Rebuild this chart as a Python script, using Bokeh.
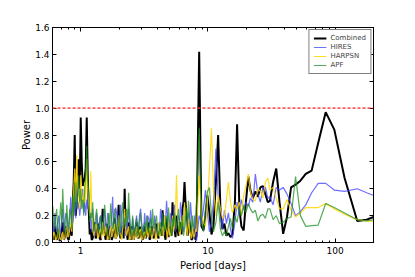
from bokeh.plotting import figure
from bokeh.models import (Range1d, FixedTicker, LogAxis, LinearAxis, Span,
                          PrintfTickFormatter, NumeralTickFormatter)
from bokeh.embed import file_html
from bokeh.resources import INLINE

# Period grid [days]: dense short-period part and sparse long-period tail
period_dense = [
    0.603, 0.614, 0.625, 0.636, 0.648, 0.660, 0.672, 0.684, 0.697, 0.710,
    0.722, 0.736, 0.749, 0.763, 0.777, 0.791, 0.805, 0.820, 0.835, 0.850,
    0.866, 0.881, 0.897, 0.914, 0.930, 0.947, 0.964, 0.982, 1.000, 1.018,
    1.037, 1.056, 1.075, 1.094, 1.115, 1.135, 1.155, 1.177, 1.198, 1.220,
    1.242, 1.265, 1.288, 1.311, 1.335, 1.359, 1.384, 1.409, 1.435, 1.461,
    1.488, 1.515, 1.543, 1.571, 1.599, 1.628, 1.658, 1.688, 1.719, 1.751,
    1.782, 1.815, 1.848, 1.882, 1.916, 1.951, 1.986, 2.022, 2.059, 2.097,
    2.135, 2.174, 2.214, 2.254, 2.295, 2.337, 2.379, 2.423, 2.467, 2.512,
    2.557, 2.604, 2.651, 2.700, 2.749, 2.799, 2.850, 2.902, 2.955, 3.009,
    3.063, 3.120, 3.176, 3.234, 3.293, 3.353, 3.414, 3.477, 3.540, 3.604,
    3.670, 3.737, 3.805, 3.875, 3.945, 4.017, 4.090, 4.165, 4.241, 4.318,
    4.396, 4.477, 4.558, 4.642, 4.726, 4.812, 4.900, 4.989, 5.080, 5.173,
    5.267, 5.363, 5.461, 5.560, 5.661, 5.765, 5.870, 5.977, 6.085, 6.197,
    6.310, 6.425, 6.542, 6.661, 6.782, 6.906, 7.032, 7.160, 7.290, 7.423,
    7.558, 7.696, 7.837, 7.979, 8.125,
]
period_tail = [
    8.531, 8.892, 9.219, 9.559, 9.910, 10.27, 10.66, 11.04, 11.55, 12.02,
    12.53, 12.99, 13.47, 13.97, 14.48, 15.02, 15.57, 16.29, 16.94, 17.67,
    18.32, 19.09, 19.86, 20.78, 21.54, 22.54, 23.58, 24.67, 25.81, 27.01,
    28.25, 29.55,
    30.7, 32.5, 34.4, 36.5, 39.0, 41.8, 45.0, 48.8, 53.3, 58.7,
    65.3, 73.5, 84.2, 98.4, 118.5, 149.0, 177.0, 200.0,
]

combined_dense = [
    0.05, 0.02, 0.12, 0.04, 0.02, 0.10, 0.08, 0.01, 0.03, 0.09,
    0.15, 0.02, 0.04, 0.12, 0.10, 0.03, 0.02, 0.08, 0.12, 0.05,
    0.30, 0.45, 0.80, 0.20, 0.30, 0.45, 0.62, 0.40, 0.93, 0.60,
    0.42, 0.45, 0.48, 0.55, 0.93, 0.50, 0.25, 0.06, 0.10, 0.02,
    0.03, 0.10, 0.15, 0.03, 0.05, 0.14, 0.12, 0.03, 0.02, 0.10,
    0.25, 0.08, 0.06, 0.02, 0.14, 0.06, 0.02, 0.12, 0.10, 0.02,
    0.04, 0.09, 0.18, 0.03, 0.05, 0.12, 0.28, 0.06, 0.03, 0.08,
    0.12, 0.03, 0.40, 0.10, 0.08, 0.02, 0.15, 0.06, 0.02, 0.12,
    0.10, 0.02, 0.05, 0.10, 0.15, 0.04, 0.03, 0.12, 0.09, 0.04,
    0.02, 0.08, 0.12, 0.03, 0.05, 0.10, 0.15, 0.02, 0.04, 0.12,
    0.10, 0.03, 0.06, 0.10, 0.14, 0.05, 0.03, 0.08, 0.10, 0.05,
    0.24, 0.12, 0.06, 0.02, 0.18, 0.08, 0.04, 0.10, 0.12, 0.05,
    0.30, 0.15, 0.10, 0.04, 0.20, 0.10, 0.05, 0.12, 0.15, 0.06,
    0.25, 0.30, 0.45, 0.30, 0.20, 0.05, 0.08, 0.15, 0.12, 0.02,
    0.03, 0.08, 0.10, 0.02, 0.05,
]
combined_tail = [
    1.42, 0.12, 0.09, 0.20, 0.35, 0.22, 0.06, 0.12, 0.45, 0.80,
    0.25, 0.10, 0.14, 0.05, 0.07, 0.04, 0.06, 0.30, 0.88, 0.25,
    0.12, 0.09, 0.30, 0.49, 0.39, 0.33, 0.38, 0.34, 0.41, 0.42,
    0.36, 0.30,
    0.31, 0.45, 0.55, 0.30, 0.065, 0.19, 0.41, 0.43, 0.46, 0.51,
    0.535, 0.74, 0.97, 0.84, 0.48, 0.16, 0.17, 0.19,
]

hires_dense = [
    0.15, 0.06, 0.22, 0.12, 0.08, 0.16, 0.20, 0.05, 0.10, 0.18,
    0.25, 0.08, 0.12, 0.22, 0.20, 0.10, 0.08, 0.20, 0.34, 0.12,
    0.15, 0.22, 0.30, 0.18, 0.42, 0.25, 0.30, 0.20, 0.28, 0.35,
    0.40, 0.22, 0.30, 0.20, 0.32, 0.25, 0.38, 0.22, 0.18, 0.08,
    0.25, 0.15, 0.10, 0.05, 0.22, 0.14, 0.08, 0.18, 0.20, 0.06,
    0.12, 0.20, 0.25, 0.08, 0.10, 0.22, 0.18, 0.05, 0.08, 0.20,
    0.34, 0.10, 0.15, 0.26, 0.22, 0.08, 0.10, 0.18, 0.28, 0.06,
    0.12, 0.22, 0.20, 0.05, 0.08, 0.16, 0.25, 0.14, 0.10, 0.04,
    0.18, 0.10, 0.06, 0.14, 0.20, 0.08, 0.12, 0.20, 0.25, 0.15,
    0.10, 0.05, 0.22, 0.12, 0.08, 0.20, 0.18, 0.10, 0.24, 0.14,
    0.10, 0.05, 0.20, 0.12, 0.06, 0.12, 0.15, 0.08, 0.25, 0.18,
    0.12, 0.05, 0.20, 0.15, 0.31, 0.20, 0.10, 0.06, 0.22, 0.10,
    0.15, 0.22, 0.28, 0.08, 0.12, 0.18, 0.20, 0.10, 0.30, 0.22,
    0.15, 0.08, 0.25, 0.18, 0.10, 0.16, 0.22, 0.12, 0.30, 0.20,
    0.12, 0.05, 0.20, 0.08, 0.01,
]
hires_tail = [
    0.20, 0.14, 0.25, 0.39, 0.22, 0.08, 0.15, 0.30, 0.70, 0.35,
    0.20, 0.10, 0.24, 0.14, 0.22, 0.10, 0.03, 0.15, 0.30, 0.20,
    0.32, 0.24, 0.30, 0.27, 0.33, 0.30, 0.51, 0.36, 0.30, 0.41,
    0.41, 0.33,
    0.34, 0.28, 0.41, 0.39, 0.41, 0.36, 0.29, 0.20, 0.23, 0.28,
    0.37, 0.44, 0.44, 0.39, 0.38, 0.40, 0.37, 0.35,
]

harpsn_dense = [
    0.02, 0.08, 0.06, 0.02, 0.03, 0.07, 0.10, 0.03, 0.02, 0.06,
    0.08, 0.02, 0.04, 0.10, 0.12, 0.04, 0.05, 0.10, 0.15, 0.08,
    0.25, 0.40, 0.55, 0.30, 0.65, 0.40, 0.35, 0.25, 0.50, 0.35,
    0.28, 0.35, 0.45, 0.30, 0.62, 0.40, 0.30, 0.20, 0.53, 0.25,
    0.15, 0.05, 0.08, 0.14, 0.12, 0.03, 0.04, 0.09, 0.10, 0.03,
    0.15, 0.06, 0.05, 0.12, 0.10, 0.02, 0.03, 0.08, 0.12, 0.04,
    0.06, 0.10, 0.14, 0.03, 0.04, 0.12, 0.20, 0.08, 0.06, 0.02,
    0.10, 0.14, 0.25, 0.10, 0.05, 0.09, 0.12, 0.02, 0.03, 0.10,
    0.09, 0.02, 0.04, 0.08, 0.12, 0.03, 0.05, 0.09, 0.10, 0.02,
    0.03, 0.07, 0.08, 0.03, 0.12, 0.06, 0.04, 0.11, 0.10, 0.03,
    0.05, 0.10, 0.13, 0.02, 0.04, 0.10, 0.15, 0.04, 0.06, 0.10,
    0.12, 0.05, 0.20, 0.12, 0.08, 0.03, 0.15, 0.06, 0.05, 0.12,
    0.20, 0.08, 0.12, 0.25, 0.50, 0.20, 0.15, 0.05, 0.08, 0.14,
    0.20, 0.12, 0.30, 0.18, 0.10, 0.05, 0.18, 0.10, 0.06, 0.03,
    0.12, 0.04, 0.05, 0.10, 0.08,
]
harpsn_tail = [
    0.50, 0.20, 0.15, 0.12, 0.30, 0.55, 0.85, 0.40, 0.20, 0.35,
    0.25, 0.18, 0.20, 0.32, 0.45, 0.30, 0.22, 0.28, 0.25, 0.30,
    0.20, 0.35, 0.42, 0.51, 0.38, 0.32, 0.31, 0.40, 0.38, 0.33,
    0.45, 0.48,
    0.39, 0.41, 0.33, 0.25, 0.25, 0.32, 0.24, 0.19, 0.22, 0.26,
    0.26, 0.26, 0.29, 0.25, 0.21, 0.17, 0.16, 0.155,
]

apf_dense = [
    0.27, 0.15, 0.10, 0.20, 0.25, 0.05, 0.08, 0.18, 0.30, 0.12,
    0.40, 0.20, 0.12, 0.06, 0.28, 0.15, 0.10, 0.25, 0.22, 0.10,
    0.35, 0.20, 0.45, 0.25, 0.28, 0.35, 0.50, 0.30, 0.40, 0.25,
    0.32, 0.20, 0.40, 0.50, 0.72, 0.45, 0.38, 0.15, 0.22, 0.18,
    0.30, 0.08, 0.12, 0.20, 0.25, 0.10, 0.08, 0.15, 0.20, 0.06,
    0.10, 0.18, 0.28, 0.15, 0.12, 0.05, 0.22, 0.12, 0.29, 0.15,
    0.10, 0.18, 0.25, 0.12, 0.08, 0.15, 0.20, 0.05, 0.12, 0.22,
    0.30, 0.10, 0.18, 0.12, 0.25, 0.15, 0.37, 0.20, 0.12, 0.05,
    0.20, 0.12, 0.06, 0.14, 0.18, 0.05, 0.10, 0.16, 0.22, 0.10,
    0.05, 0.12, 0.15, 0.05, 0.20, 0.12, 0.08, 0.14, 0.18, 0.06,
    0.25, 0.12, 0.10, 0.16, 0.20, 0.08, 0.05, 0.12, 0.15, 0.05,
    0.22, 0.14, 0.08, 0.15, 0.20, 0.10, 0.26, 0.15, 0.10, 0.05,
    0.18, 0.12, 0.22, 0.15, 0.10, 0.18, 0.25, 0.08, 0.15, 0.10,
    0.20, 0.05, 0.10, 0.18, 0.26, 0.12, 0.31, 0.20, 0.15, 0.08,
    0.20, 0.12, 0.10, 0.15, 0.30,
]
apf_tail = [
    0.85, 0.15, 0.08, 0.25, 0.38, 0.41, 0.20, 0.08, 0.15, 0.30,
    0.10, 0.05, 0.08, 0.05, 0.12, 0.18, 0.10, 0.20, 0.15, 0.26,
    0.20, 0.28, 0.22, 0.29, 0.25, 0.22, 0.24, 0.16, 0.20, 0.21,
    0.18, 0.25,
    0.25, 0.17, 0.20, 0.14, 0.15, 0.18, 0.19, 0.49, 0.20, 0.12,
    0.125, 0.13, 0.29, 0.26, 0.22, 0.17, 0.16, 0.17,
]

y_ticks = [0.0, 0.2, 0.4, 0.6, 0.8, 1.0, 1.2, 1.4, 1.6]
x_ticks = [1, 10, 100]
x_minor = [0.6, 0.7, 0.8, 0.9, 2, 3, 4, 5, 6, 7, 8, 9,
           20, 30, 40, 50, 60, 70, 80, 90, 200]
threshold = 1.0

period = period_dense + period_tail
combined = combined_dense + combined_tail
hires = hires_dense + hires_tail
harpsn = harpsn_dense + harpsn_tail
apf = apf_dense + apf_tail

FONT = "DejaVu Sans"

p = figure(width=407, height=273, x_axis_type="log",
           x_range=Range1d(0.6, 200), y_range=Range1d(0, 1.6),
           output_backend="svg", toolbar_location=None,
           min_border_left=52, min_border_right=34,
           min_border_top=27, min_border_bottom=31)

p.background_fill_color = "white"
p.border_fill_color = "white"
p.outline_line_color = "black"
p.outline_line_width = 1
p.grid.visible = False

p.line(period, combined, line_color="black", line_width=2, legend_label="Combined")
p.line(period, hires, line_color="#3d3dff", line_width=1.2, line_alpha=0.75, legend_label="HIRES")
p.line(period, harpsn, line_color="#ffd700", line_width=1.2, line_alpha=0.85, legend_label="HARPSN")
p.line(period, apf, line_color="#1f8f1f", line_width=1.2, line_alpha=0.75, legend_label="APF")

p.add_layout(Span(location=threshold, dimension="width", line_color="#ff3333",
                  line_alpha=0.8, line_width=1.8, line_dash="3 2"))

xa = p.xaxis[0]
xa.ticker = FixedTicker(ticks=x_ticks, minor_ticks=x_minor)
xa.formatter = NumeralTickFormatter(format="0")
xa.axis_label = "Period [days]"
ya = p.yaxis[0]
ya.ticker = FixedTicker(ticks=y_ticks)
ya.formatter = PrintfTickFormatter(format="%.1f")
ya.axis_label = "Power"

for ax in (xa, ya):
    ax.axis_line_color = "black"
    ax.major_tick_in = 4
    ax.major_tick_out = 0
    ax.minor_tick_in = 2
    ax.minor_tick_out = 0
    ax.major_tick_line_color = "black"
    ax.minor_tick_line_color = "black"
    ax.major_label_text_font = FONT
    ax.major_label_text_font_size = "9px"
    ax.major_label_text_color = "black"
    ax.axis_label_text_font = FONT
    ax.axis_label_text_font_size = "10px"
    ax.axis_label_text_font_style = "normal"
    ax.axis_label_text_color = "black"
ya.minor_tick_in = 0
xa.major_label_standoff = 4
xa.axis_label_standoff = 3
ya.major_label_standoff = 3
ya.axis_label_standoff = 0

top = LogAxis(ticker=FixedTicker(ticks=x_ticks, minor_ticks=x_minor),
              major_tick_in=4, major_tick_out=0, minor_tick_in=2, minor_tick_out=0,
              major_label_text_font_size="1px", major_label_text_alpha=0,
              major_label_standoff=0)
p.add_layout(top, "above")
right = LinearAxis(ticker=FixedTicker(ticks=y_ticks),
                   major_tick_in=4, major_tick_out=0, minor_tick_in=0, minor_tick_out=0,
                   major_label_text_font_size="1px", major_label_text_alpha=0,
                   major_label_standoff=0)
p.add_layout(right, "right")

lg = p.legend[0]
lg.location = "top_right"
lg.margin = 2
lg.padding = 4
lg.spacing = 1
lg.label_height = 8
lg.glyph_height = 8
lg.glyph_width = 13
lg.label_standoff = 4
lg.label_text_font = FONT
lg.label_text_font_size = "7px"
lg.border_line_color = "black"
lg.border_line_width = 1
lg.background_fill_color = "white"
lg.background_fill_alpha = 1.0

open("out.html", "w").write(file_html(p, INLINE))
